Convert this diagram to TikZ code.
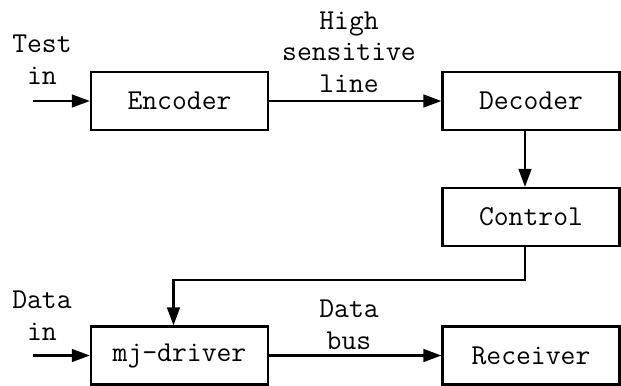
\documentclass[tikz,border=0pt]{standalone}
\usepackage{fontspec}
\usepackage{tikz}
\usetikzlibrary{arrows.meta}
\definecolor{sigInk}{HTML}{000000}
\tikzset{
  every picture/.style={font=\ttfamily\fontsize{20.5}{22.5}\selectfont, text=sigInk},
  sig box/.style={draw=sigInk, line width=1.6pt, fill=white, align=center,
    minimum width=4.425cm, minimum height=1.45cm, inner sep=0pt},
  sig label/.style={align=center, inner sep=0pt},
  sig arrow/.style={-{Triangle[length=4.5mm,width=3.2mm]},
    draw=sigInk, line width=1.5pt, line cap=butt}
}

\begin{document}
\begin{tikzpicture}[x=0.025cm,y=-0.025cm]
  \useasboundingbox (0,0) rectangle (621,386);
  % blocks
  \node[sig box] (enc) at (179.5,101) {Encoder};
  \node[sig box] (dec) at (531,101) {Decoder};
  \node[sig box] (ctl) at (531,217) {Control};
  \node[sig box] (drv) at (179.5,355.5) {mj-driver};
  \node[sig box] (rcv) at (531,355.5) {Receiver};
  % inputs
  \coordinate (tin) at (33,101);
  \coordinate (din) at (33,355.5);
  \node[sig label] (tinlbl) at (42,60) {Test\\in};
  \node[sig label] (dinlbl) at (42,315.5) {Data\\in};
  \node[sig label] (hsl) at (349,52) {High\\sensitive\\line};
  \node[sig label] (dbus) at (349,324.5) {Data\\bus};
  % connections
  \draw[sig arrow] (tin) -- (enc.west);
  \draw[sig arrow] (enc.east) -- (dec.west);
  \draw[sig arrow] ([xshift=-0.15cm]dec.south) -- ([xshift=-0.15cm]ctl.north);
  \draw[sig arrow] ([xshift=-0.15cm]ctl.south) -- ++(0,-0.825cm)
    -| ([xshift=-0.15cm]drv.north);
  \draw[sig arrow] (din) -- (drv.west);
  \draw[sig arrow] (drv.east) -- (rcv.west);
\end{tikzpicture}
\end{document}
